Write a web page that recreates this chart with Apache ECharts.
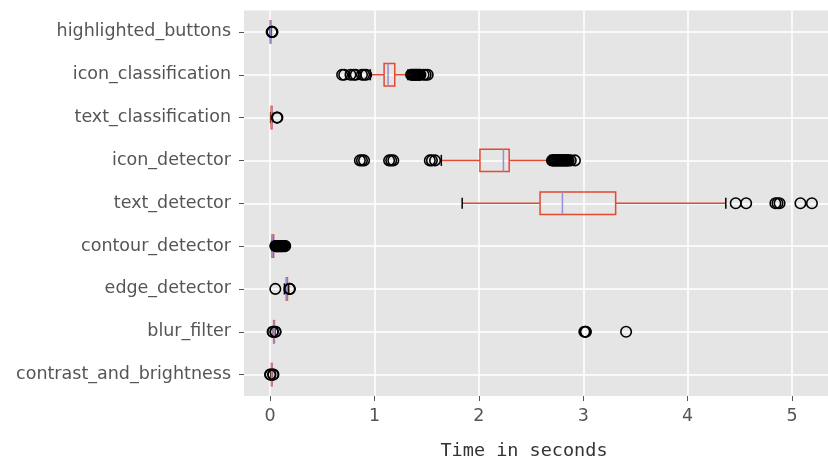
<!DOCTYPE html>
<html>
<head>
<meta charset="utf-8">
<script src="https://cdn.jsdelivr.net/npm/echarts@6/dist/echarts.min.js"></script>
<style>
  html, body { margin: 0; padding: 0; background: #fff; }
  #chart { width: 828px; height: 466px; }
</style>
</head>
<body>
<div id="chart"></div>
<script>
// Processing stages, listed top to bottom
const categories = [
  'highlighted_buttons',
  'icon_classification',
  'text_classification',
  'icon_detector',
  'text_detector',
  'contour_detector',
  'edge_detector',
  'blur_filter',
  'contrast_and_brightness'
];

// Box statistics per stage (seconds)
const whiskerLow  = [0.000, 0.960, 0.005, 1.640, 1.840, 0.015, 0.137, 0.031, 0.008];
const quartile1   = [0.002, 1.092, 0.010, 2.010, 2.586, 0.019, 0.155, 0.034, 0.013];
const medians     = [0.004, 1.130, 0.015, 2.235, 2.800, 0.022, 0.160, 0.038, 0.016];
const quartile3   = [0.007, 1.194, 0.018, 2.290, 3.310, 0.034, 0.166, 0.041, 0.019];
const whiskerHigh = [0.012, 1.320, 0.022, 2.680, 4.365, 0.045, 0.178, 0.046, 0.022];

// Outlying measurements per stage (seconds)
const outliersHighlighted = [0.015, 0.020, 0.022];
const outliersIconClass = [0.69, 0.71, 0.77, 0.80, 0.82, 0.88, 0.90, 0.92,
  1.35, 1.36, 1.37, 1.38, 1.39, 1.40, 1.41, 1.42, 1.43, 1.44, 1.47, 1.49, 1.51];
const outliersTextClass = [0.065, 0.070];
const outliersIconDet = [0.86, 0.88, 0.90, 1.14, 1.16, 1.18, 1.53, 1.55, 1.58,
  2.70, 2.71, 2.72, 2.73, 2.74, 2.75, 2.76, 2.77, 2.78, 2.79, 2.80, 2.81,
  2.82, 2.83, 2.84, 2.85, 2.86, 2.88, 2.92];
const outliersTextDet = [4.46, 4.56, 4.84, 4.86, 4.88, 5.08, 5.19];
const outliersContour = [0.050, 0.055, 0.060, 0.065, 0.070, 0.075, 0.080, 0.085,
  0.090, 0.095, 0.100, 0.105, 0.110, 0.115, 0.120, 0.130, 0.140, 0.145];
const outliersEdge = [0.050, 0.185, 0.190];
const outliersBlur = [0.024, 0.028, 0.050, 0.053, 3.010, 3.020, 3.025, 3.410];
const outliersContrast = [0.000, 0.004, 0.028, 0.032];

const outlierLists = [
  outliersHighlighted, outliersIconClass, outliersTextClass, outliersIconDet,
  outliersTextDet, outliersContour, outliersEdge, outliersBlur, outliersContrast
];

// Tick labels on the time axis
const timeTicks = [0, 1, 2, 3, 4, 5];
const categoryTicks = categories.map((c, i) => i + 1);

const RED = '#E24A33';
const MEDIAN = '#988ED5';

const boxData = categories.map((c, i) => [
  i + 1, whiskerLow[i], quartile1[i], medians[i], quartile3[i], whiskerHigh[i]
]);
const outlierData = [];
outlierLists.forEach((list, i) => list.forEach(v => outlierData.push([v, i + 1])));

function renderBox(params, api) {
  const pos = api.value(0);
  const lo = api.coord([api.value(1), pos]);
  const q1 = api.coord([api.value(2), pos]);
  const md = api.coord([api.value(3), pos]);
  const q3 = api.coord([api.value(4), pos]);
  const hi = api.coord([api.value(5), pos]);
  const band = Math.abs(api.size([0, 1])[1]);
  const hb = band * 0.26;
  const hc = band * 0.13;
  const y = lo[1];
  const lw = 1.5;
  return {
    type: 'group',
    children: [
      { type: 'line', shape: { x1: lo[0], y1: y, x2: q1[0], y2: y },
        style: { stroke: RED, lineWidth: lw } },
      { type: 'line', shape: { x1: q3[0], y1: y, x2: hi[0], y2: y },
        style: { stroke: RED, lineWidth: lw } },
      { type: 'line', shape: { x1: lo[0], y1: y - hc, x2: lo[0], y2: y + hc },
        style: { stroke: '#000', lineWidth: lw } },
      { type: 'line', shape: { x1: hi[0], y1: y - hc, x2: hi[0], y2: y + hc },
        style: { stroke: '#000', lineWidth: lw } },
      { type: 'rect', shape: { x: q1[0], y: y - hb, width: q3[0] - q1[0], height: 2 * hb },
        style: { fill: 'none', stroke: RED, lineWidth: lw } },
      { type: 'line', shape: { x1: md[0], y1: y - hb, x2: md[0], y2: y + hb },
        style: { stroke: MEDIAN, lineWidth: lw } }
    ]
  };
}

const chart = echarts.init(document.getElementById('chart'), null, { renderer: 'canvas' });
chart.setOption({
  backgroundColor: '#ffffff',
  animation: false,
  grid: {
    left: 244, top: 10.5, right: 0, height: 388,
    show: true, backgroundColor: '#E5E5E5', borderWidth: 0
  },
  xAxis: {
    type: 'value',
    min: -0.25,
    max: 5.344,
    name: 'Time in seconds',
    nameLocation: 'middle',
    nameGap: 46,
    nameTextStyle: {
      fontFamily: 'DejaVu Sans Mono', fontSize: 18.5, color: '#333',
      padding: [0, 24, 0, 0]
    },
    axisLine: { show: false, onZero: false },
    axisTick: { show: true, length: 5, lineStyle: { color: '#555', width: 1 }, customValues: timeTicks },
    axisLabel: {
      customValues: timeTicks, margin: 11,
      fontFamily: 'DejaVu Sans', fontSize: 17.5, color: '#555'
    },
    splitLine: { show: true, lineStyle: { color: '#ffffff', width: 1.5 } }
  },
  yAxis: {
    type: 'value',
    min: 0.5,
    max: 9.5,
    inverse: true,
    axisLine: { show: false, onZero: false },
    axisTick: { show: true, length: 5, lineStyle: { color: '#555', width: 1 }, customValues: categoryTicks },
    axisLabel: {
      customValues: categoryTicks, margin: 13,
      fontFamily: 'DejaVu Sans', fontSize: 17.5, color: '#555',
      formatter: v => categories[Math.round(v) - 1] || ''
    },
    splitLine: { show: true, lineStyle: { color: '#ffffff', width: 1.5 } }
  },
  series: [
    {
      type: 'custom',
      renderItem: renderBox,
      encode: { x: [1, 2, 3, 4, 5], y: 0 },
      data: boxData,
      z: 2
    },
    {
      type: 'scatter',
      data: outlierData,
      symbol: 'circle',
      symbolSize: 10.5,
      itemStyle: { color: 'rgba(0,0,0,0)', borderColor: '#000', borderWidth: 1.6, opacity: 1 },
      z: 3
    }
  ]
});
</script>
</body>
</html>
